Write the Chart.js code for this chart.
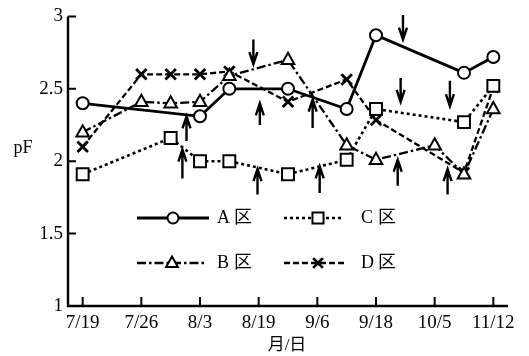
<!DOCTYPE html>
<html>
<head>
<meta charset="utf-8">
<script src="https://cdn.jsdelivr.net/npm/chart.js@4.4.0/dist/chart.umd.min.js"></script>
<style>
  body { margin: 0; background: #fff; }
  #wrap { width: 529px; height: 356px; }
</style>
</head>
<body>
<div id="wrap"><canvas id="chart" width="529" height="356"></canvas></div>
<script>
// Tick labels (dates) on the x axis, one per integer position
const dateLabels = ['7/19', '7/26', '8/3', '8/19', '9/6', '9/18', '10/5', '11/12'];

// Positions along the x axis (0 = 7/19, 7 = 11/12) and pF values per plot
const aX = [0, 2, 2.5, 3.5, 4.5, 5, 6.5, 7];
const aY = [2.40, 2.31, 2.50, 2.50, 2.36, 2.87, 2.61, 2.72];

const bX = [0, 1, 1.5, 2, 2.5, 3.5, 4.5, 5, 6, 6.5, 7];
const bY = [2.20, 2.41, 2.40, 2.41, 2.59, 2.70, 2.11, 2.01, 2.11, 1.91, 2.36];

const cX = [0, 1.5, 2, 2.5, 3.5, 4.5, 5, 6.5, 7];
const cY = [1.91, 2.16, 2.00, 2.00, 1.91, 2.01, 2.36, 2.27, 2.52];

const dX = [0, 1, 1.5, 2, 2.5, 3.5, 4.5, 5, 6.5, 7];
const dY = [2.10, 2.60, 2.60, 2.60, 2.62, 2.41, 2.565, 2.285, 1.92, 2.51];

// Irrigation arrows: x position, tail value, tip value
const downX    = [2.91, 5.46, 5.42, 6.26];
const downFrom = [2.84, 3.01, 2.575, 2.555];
const downTo   = [2.67, 2.84, 2.41, 2.38];

const upX    = [1.77, 1.70, 3.02, 2.98, 3.92, 4.04, 5.37, 6.22];
const upFrom = [2.14, 1.88, 2.25, 1.77, 2.23, 1.78, 1.83, 1.77];
const upTo   = [2.31, 2.08, 2.40, 1.945, 2.425, 1.965, 2.01, 1.945];

const SERIF = "'Liberation Serif', 'Noto Sans CJK JP', serif";

function pts(xs, ys) {
  return xs.map((x, i) => ({ x, y: ys[i] }));
}

const series = [
  { label: 'A区', data: pts(aX, aY), style: 'circle', dash: [], width: 2.8, radius: 6 },
  { label: 'B区', data: pts(bX, bY), style: 'triangle', dash: [9, 3, 2.5, 3], width: 2.3, radius: 7 },
  { label: 'C区', data: pts(cX, cY), style: 'rect', dash: [3, 3], width: 2.6, radius: 7 },
  { label: 'D区', data: pts(dX, dY), style: 'crossRot', dash: [6, 3], width: 2.3, radius: 7 }
];

// markers: D first so the other plots sit on top where they overlap
const markerOrder = [3, 0, 1, 2];

function drawMarker(ctx, style, x, y, r) {
  ctx.save();
  ctx.setLineDash([]);
  ctx.fillStyle = '#fff';
  ctx.strokeStyle = '#000';
  ctx.lineWidth = style === 'crossRot' ? 2.8 : 2;
  ctx.beginPath();
  if (style === 'circle') {
    ctx.arc(x, y, r, 0, Math.PI * 2);
    ctx.fill(); ctx.stroke();
  } else if (style === 'rect') {
    const s = r * 0.85;
    ctx.rect(x - s, y - s, s * 2, s * 2);
    ctx.fill(); ctx.stroke();
  } else if (style === 'triangle') {
    ctx.moveTo(x, y - r);
    ctx.lineTo(x + r * 0.9, y + r * 0.6);
    ctx.lineTo(x - r * 0.9, y + r * 0.6);
    ctx.closePath();
    ctx.fill(); ctx.stroke();
  } else {
    const s = r * 0.75;
    ctx.moveTo(x - s, y - s); ctx.lineTo(x + s, y + s);
    ctx.moveTo(x + s, y - s); ctx.lineTo(x - s, y + s);
    ctx.stroke();
  }
  ctx.restore();
}

function drawArrow(ctx, x, y0, y1) {
  // y0 = tail pixel, y1 = tip pixel
  const dir = y1 > y0 ? 1 : -1;
  ctx.save();
  ctx.strokeStyle = '#000';
  ctx.lineWidth = 2.4;
  ctx.setLineDash([]);
  ctx.beginPath();
  ctx.moveTo(x, y0);
  ctx.lineTo(x, y1);
  ctx.moveTo(x - 4, y1 - dir * 12);
  ctx.lineTo(x, y1);
  ctx.lineTo(x + 4, y1 - dir * 12);
  ctx.stroke();
  ctx.restore();
}

const decorPlugin = {
  id: 'decor',
  afterDatasetsDraw(chart) {
    const ctx = chart.ctx;
    const xs = chart.scales.x, ys = chart.scales.y;
    const area = chart.chartArea;

    markerOrder.forEach(k => {
      const s = series[k];
      s.data.forEach(p => drawMarker(ctx, s.style, xs.getPixelForValue(p.x), ys.getPixelForValue(p.y), s.radius));
    });

    downX.forEach((x, i) => drawArrow(ctx, xs.getPixelForValue(x), ys.getPixelForValue(downFrom[i]), ys.getPixelForValue(downTo[i])));
    upX.forEach((x, i) => drawArrow(ctx, xs.getPixelForValue(x), ys.getPixelForValue(upFrom[i]), ys.getPixelForValue(upTo[i])));

    // axes with inward ticks
    ctx.save();
    ctx.strokeStyle = '#000';
    ctx.lineWidth = 2.4;
    ctx.beginPath();
    ctx.moveTo(area.left, area.top);
    ctx.lineTo(area.left, area.bottom);
    ctx.lineTo(area.right, area.bottom);
    ctx.stroke();
    ctx.lineWidth = 2;
    ctx.beginPath();
    ys.ticks.forEach(t => {
      const py = ys.getPixelForValue(t.value);
      ctx.moveTo(area.left, py); ctx.lineTo(area.left + 8, py);
    });
    xs.ticks.forEach(t => {
      const px = xs.getPixelForValue(t.value);
      ctx.moveTo(px, area.bottom); ctx.lineTo(px, area.bottom - 9);
    });
    ctx.stroke();

    // legend inside the plot
    const rows = [
      { s: series[0], x0: 137, x1: 209, mx: 173, tx: 217, y: 218 },
      { s: series[2], x0: 284, x1: 344, mx: 318, tx: 361, y: 218 },
      { s: series[1], x0: 137, x1: 207, mx: 172, tx: 217, y: 263 },
      { s: series[3], x0: 284, x1: 344, mx: 318, tx: 361, y: 263 }
    ];
    rows.forEach(r => {
      ctx.save();
      ctx.strokeStyle = '#000';
      ctx.lineWidth = r.s.width;
      ctx.setLineDash(r.s.dash);
      ctx.beginPath();
      ctx.moveTo(r.x0, r.y); ctx.lineTo(r.x1, r.y);
      ctx.stroke();
      ctx.restore();
      drawMarker(ctx, r.s.style, r.mx, r.y, r.s.radius - 0.5);
      ctx.fillStyle = '#000';
      ctx.font = '18px ' + SERIF;
      ctx.textBaseline = 'middle';
      ctx.textAlign = 'left';
      ctx.fillText(r.s.label.charAt(0), r.tx, r.y);
      ctx.fillText(r.s.label.slice(1), r.tx + 17, r.y);
    });

    // axis titles
    ctx.font = '18px ' + SERIF;
    ctx.textAlign = 'center';
    ctx.fillText('pF', 23, 148);
    ctx.font = '17px ' + SERIF;
    ctx.fillText('月/日', 287, 346);
    ctx.restore();
  }
};

new Chart(document.getElementById('chart'), {
  type: 'line',
  data: {
    datasets: series.map(s => ({
      label: s.label,
      data: s.data,
      borderColor: '#000',
      borderWidth: s.width,
      borderDash: s.dash,
      pointRadius: 0,
      fill: false,
      tension: 0
    }))
  },
  options: {
    responsive: false,
    animation: false,
    layout: { padding: { top: 14, right: 21, left: 0, bottom: 0 } },
    plugins: { legend: { display: false }, tooltip: { enabled: false } },
    scales: {
      x: {
        type: 'linear',
        min: -0.25,
        max: 7.25,
        afterBuildTicks: s => { s.ticks = dateLabels.map((_, i) => ({ value: i })); },
        afterFit: s => { s.height = 50; },
        grid: { display: false, drawTicks: false },
        border: { display: false },
        ticks: {
          padding: 6,
          color: '#000',
          font: { family: SERIF, size: 19 },
          maxRotation: 0,
          autoSkip: false,
          callback: v => dateLabels[v]
        }
      },
      y: {
        min: 1,
        max: 3,
        afterFit: s => { s.width = 68; },
        grid: { display: false, drawTicks: false },
        border: { display: false },
        ticks: {
          stepSize: 0.5,
          padding: 5,
          color: '#000',
          font: { family: SERIF, size: 19 },
          callback: v => String(v)
        }
      }
    }
  },
  plugins: [decorPlugin]
});
</script>
</body>
</html>
